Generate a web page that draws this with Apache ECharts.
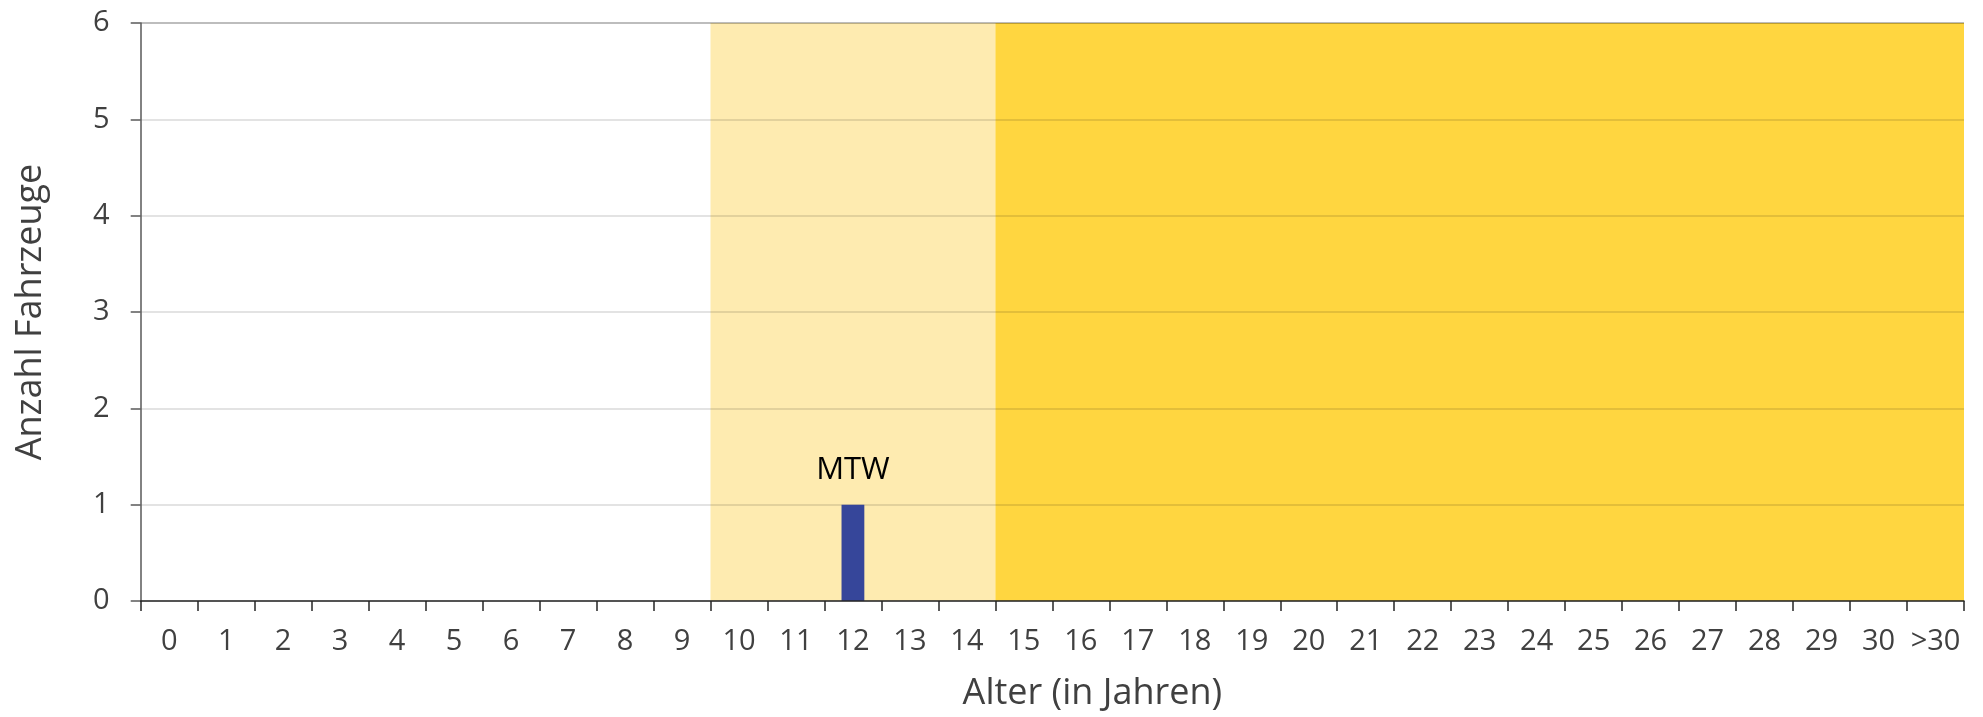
<!DOCTYPE html>
<html>
<head>
<meta charset="utf-8">
<script src="https://cdn.jsdelivr.net/npm/echarts@6/dist/echarts.min.js"></script>
<style>
html,body{margin:0;padding:0;background:#fff;}
#chart{width:1983px;height:717px;}
</style>
</head>
<body>
<div id="chart"></div>
<script>
// ---- data ----
var categories = ['0','1','2','3','4','5','6','7','8','9','10','11','12','13','14','15','16','17','18','19','20','21','22','23','24','25','26','27','28','29','30','>30'];
var counts     = [0,0,0,0,0,0,0,0,0,0,0,0,1,0,0,0,0,0,0,0,0,0,0,0,0,0,0,0,0,0,0,0];
var vehicleLabels = ['','','','','','','','','','','','','MTW','','','','','','','','','','','','','','','','','','',''];
var yTicks = [0,1,2,3,4,5,6];
// age zones as [first category index, index after last]
var zoneStart = [10, 15];
var zoneEnd   = [15, 32];
var yMax = 6;

// ---- build ----
var zoneColors = ['#FEEBB0', '#FFD640'];
var zoneData = zoneStart.map(function(s, i){ return [s, zoneEnd[i], i]; });
var barData = counts.map(function(v, i){
  return { value: v, label: { show: vehicleLabels[i] !== '', formatter: vehicleLabels[i] } };
});
var gridColors = yTicks.map(function(t){ return t === yMax ? 'rgba(0,0,0,0.35)' : 'rgba(0,0,0,0.15)'; });

var font = '"Open Sans", "Liberation Sans", sans-serif';
var chart = echarts.init(document.getElementById('chart'), null, {renderer:'canvas'});
chart.setOption({
  animation: false,
  grid: { left: 140.7, right: 19, top: 23, bottom: 115, containLabel: false },
  xAxis: [{
    type: 'category',
    data: categories,
    name: 'Alter (in Jahren)',
    nameLocation: 'middle',
    nameGap: 75,
    nameTextStyle: { fontFamily: font, fontSize: 36, color: '#404040', padding: [0, 0, 0, 80] },
    axisLine: { show: true, lineStyle: { color: '#262626', width: 1.5 } },
    axisTick: { show: true, length: 10, lineStyle: { color: '#262626', width: 1.5 } },
    axisLabel: { fontFamily: font, fontSize: 29, color: '#404040', margin: 26, interval: 0 },
    splitLine: { show: false },
    z: 5
  }, {
    type: 'value',
    min: 0,
    max: categories.length,
    show: false
  }],
  yAxis: {
    type: 'value',
    min: 0, max: yMax, interval: 1,
    name: 'Anzahl Fahrzeuge',
    nameLocation: 'middle',
    nameGap: 92,
    nameTextStyle: { fontFamily: font, fontSize: 36, color: '#404040' },
    axisLine: { show: true, lineStyle: { color: '#595959', width: 1.5 } },
    axisTick: { show: true, length: 10, lineStyle: { color: '#595959', width: 1.5 } },
    axisLabel: { fontFamily: font, fontSize: 29, color: '#404040', margin: 31 },
    splitLine: { show: true, lineStyle: { color: gridColors, width: 1.5 } }
  },
  series: [{
    type: 'custom',
    xAxisIndex: 1,
    data: zoneData,
    silent: true,
    z: -1,
    renderItem: function(params, api){
      var p0 = api.coord([api.value(0), yMax]);
      var p1 = api.coord([api.value(1), 0]);
      return {
        type: 'rect',
        shape: { x: p0[0], y: p0[1], width: p1[0] - p0[0], height: p1[1] - p0[1] },
        style: { fill: zoneColors[api.value(2)] }
      };
    }
  }, {
    type: 'bar',
    xAxisIndex: 0,
    data: barData,
    barWidth: '40%',
    itemStyle: { color: '#36469A' },
    label: { position: 'top', distance: 19, fontFamily: font, fontSize: 31, color: '#000' },
    z: 3
  }]
});
</script>
</body>
</html>
